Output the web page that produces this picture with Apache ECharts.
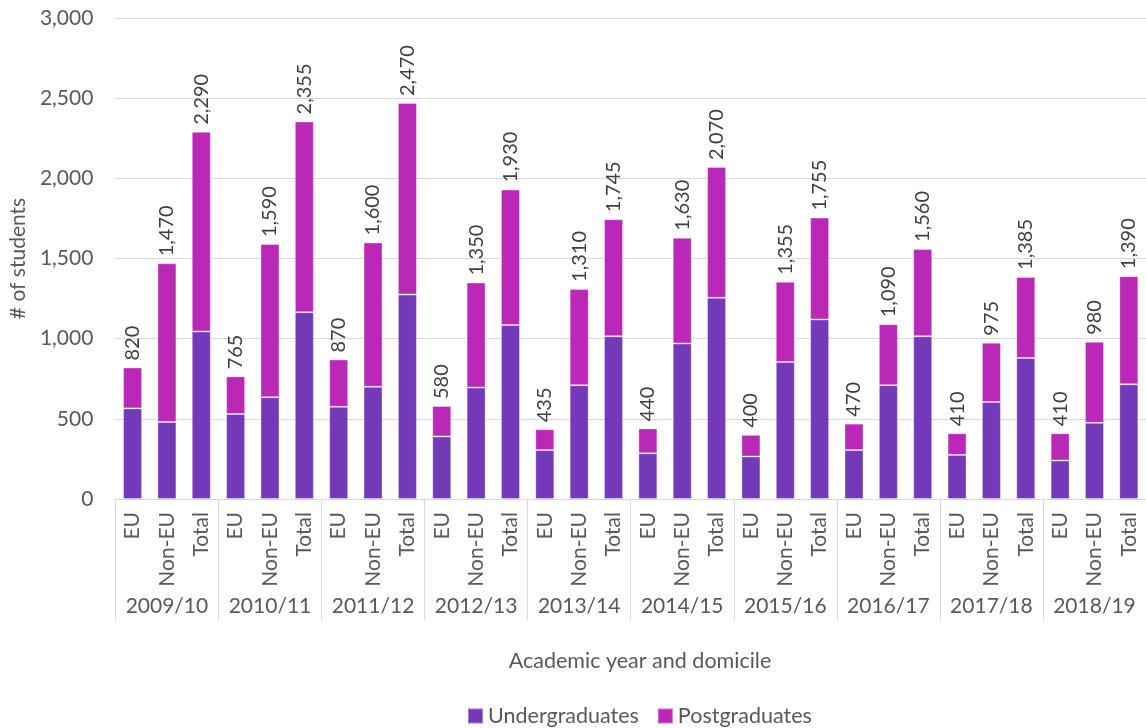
<!DOCTYPE html>
<html>
<head>
<meta charset="utf-8">
<title>Students by academic year and domicile</title>
<script src="https://cdn.jsdelivr.net/npm/echarts@6/dist/echarts.min.js"></script>
<style>
  html, body { margin: 0; padding: 0; background: #ffffff; }
  #chart { width: 1146px; height: 728px; }
</style>
</head>
<body>
<div id="chart"></div>
<script>
// Academic years (outer axis) and domicile groups (inner axis)
const years = ['2009/10', '2010/11', '2011/12', '2012/13', '2013/14', '2014/15', '2015/16', '2016/17', '2017/18', '2018/19'];
const domiciles = ['EU', 'Non-EU', 'Total'];

// Total students per bar (EU, Non-EU, Total for each year)
const totals = [
  820, 1470, 2290,
  765, 1590, 2355,
  870, 1600, 2470,
  580, 1350, 1930,
  435, 1310, 1745,
  440, 1630, 2070,
  400, 1355, 1755,
  470, 1090, 1560,
  410, 975, 1385,
  410, 980, 1390
];

// Undergraduate part of each bar
const undergraduates = [
  565, 480, 1045,
  530, 635, 1165,
  575, 700, 1275,
  390, 695, 1085,
  305, 710, 1015,
  285, 970, 1255,
  265, 855, 1120,
  305, 710, 1015,
  275, 605, 880,
  240, 475, 715
];

// Postgraduates make up the rest of each total
const postgraduates = totals.map((t, i) => t - undergraduates[i]);

// Value axis ticks
const yTicks = { min: 0, max: 3000, interval: 500 };

const categories = [];
years.forEach(() => domiciles.forEach(d => categories.push(d)));

const fmt = v => Number(v).toLocaleString('en-US');
const FONT = 'Lato';
const TEXT = '#595959';
const GRID_LINE = '#d9d9d9';

const chart = echarts.init(document.getElementById('chart'), null, { renderer: 'canvas' });

chart.setOption({
  animation: false,
  backgroundColor: '#ffffff',
  textStyle: { fontFamily: FONT },
  grid: { left: 114, right: 0, top: 18, bottom: 229, containLabel: false },
  legend: {
    top: 700,
    left: 462,
    itemWidth: 15,
    itemHeight: 15,
    itemGap: 18,
    icon: 'rect',
    textStyle: { fontFamily: FONT, fontSize: 21.5, color: TEXT },
    data: ['Undergraduates', 'Postgraduates']
  },
  xAxis: [
    {
      type: 'category',
      data: categories,
      axisLine: { show: true, lineStyle: { color: GRID_LINE, width: 1 } },
      axisTick: { show: false },
      axisLabel: {
        interval: 0,
        rotate: 90,
        margin: 13,
        fontFamily: FONT,
        fontSize: 21,
        color: TEXT
      }
    },
    {
      type: 'category',
      position: 'bottom',
      data: years,
      axisLine: { show: false },
      axisTick: { show: true, interval: 0, length: 121, lineStyle: { color: GRID_LINE, width: 1 } },
      axisLabel: {
        interval: 0,
        margin: 97,
        fontFamily: FONT,
        fontSize: 21,
        color: TEXT
      }
    }
  ],
  yAxis: {
    type: 'value',
    min: yTicks.min,
    max: yTicks.max,
    interval: yTicks.interval,
    name: '# of students',
    nameLocation: 'middle',
    nameRotate: 90,
    nameGap: 84,
    nameTextStyle: { fontFamily: FONT, fontSize: 21, color: TEXT },
    axisLine: { show: false },
    axisTick: { show: false },
    splitLine: { lineStyle: { color: GRID_LINE, width: 1 } },
    axisLabel: {
      margin: 22,
      fontFamily: FONT,
      fontSize: 21,
      color: TEXT,
      formatter: v => fmt(v)
    }
  },
  graphic: [
    {
      type: 'text',
      x: 640,
      y: 661,
      style: {
        text: 'Academic year and domicile',
        fontFamily: FONT,
        fontSize: 21.5,
        fill: TEXT,
        textAlign: 'center',
        textVerticalAlign: 'middle'
      }
    }
  ],
  series: [
    {
      name: 'Undergraduates',
      type: 'bar',
      stack: 'students',
      xAxisIndex: 0,
      barWidth: 19,
      itemStyle: { color: '#7339B8', borderColor: 'rgba(255,255,255,0.35)', borderWidth: 1 },
      data: undergraduates
    },
    {
      name: 'Postgraduates',
      type: 'bar',
      stack: 'students',
      xAxisIndex: 0,
      barWidth: 19,
      itemStyle: { color: '#BB28B8', borderColor: 'rgba(255,255,255,0.35)', borderWidth: 1 },
      label: {
        show: true,
        position: 'top',
        rotate: 90,
        align: 'left',
        verticalAlign: 'middle',
        distance: 7,
        fontFamily: FONT,
        fontSize: 20,
        color: '#404040',
        formatter: p => fmt(totals[p.dataIndex])
      },
      data: postgraduates
    }
  ]
});
</script>
</body>
</html>
